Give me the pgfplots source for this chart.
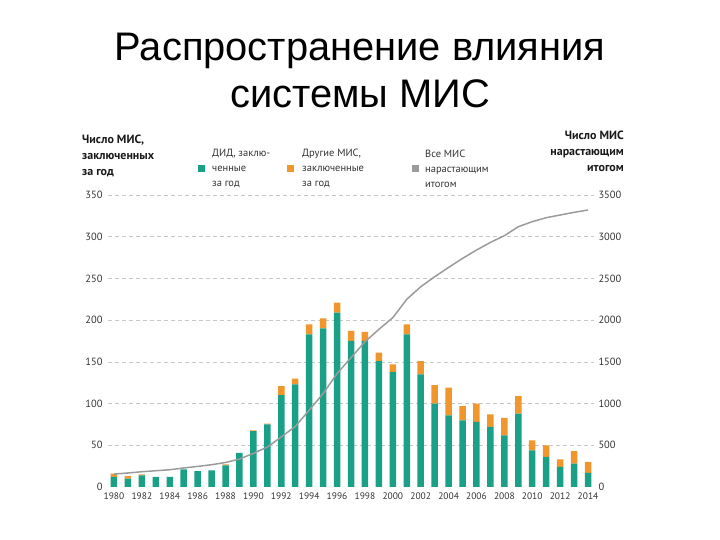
\documentclass[border=0pt]{standalone}
\usepackage{fontspec}
\setmainfont{PT Sans}
\newfontfamily\titlefont{Liberation Sans}
\usepackage{pgfplots}
\pgfplotsset{compat=1.18}
\usepackage{pgfplotstable}
\definecolor{didgreen}{HTML}{1AA086}
\definecolor{othorange}{HTML}{F0962D}
\definecolor{cumgray}{HTML}{9B9B9B}
\definecolor{txt}{HTML}{333333}
\definecolor{gridc}{HTML}{C8C8C8}

\pgfplotstableread{
year did other cum
1980 12 4 155
1981 10 3 168
1982 14 1 183
1983 12 0 195
1984 12 0 207
1985 21 0 228
1986 19 0 247
1987 20 0 267
1988 26 1 294
1989 41 0 335
1990 67 1 403
1991 75 1 479
1992 110 11 600
1993 123 7 725
1994 183 12 920
1995 190 12 1120
1996 209 12 1360
1997 175 12 1550
1998 175 11 1740
1999 151 10 1890
2000 138 9 2030
2001 183 12 2250
2002 135 16 2400
2003 100 22 2520
2004 86 33 2632
2005 80 17 2740
2006 78 22 2840
2007 72 15 2932
2008 62 21 3012
2009 88 21 3120
2010 44 12 3180
2011 36 14 3228
2012 24 9 3260
2013 28 15 3292
2014 17 13 3320
}\data

\begin{document}
\begin{tikzpicture}
\useasboundingbox (0,0) rectangle (720bp,540bp);
\node[font=\titlefont\fontsize{40}{48}\selectfont, anchor=base, inner sep=0] at (360bp,479bp) {Распространение влияния};
\node[font=\titlefont\fontsize{40}{48}\selectfont, anchor=base, inner sep=0] at (360bp,432bp) {системы МИС};

\node[anchor=north west, align=left, inner sep=0, text=black!90,
      font=\bfseries\fontsize{12}{15.8}\selectfont] at (82bp,405bp) {Число МИС,\\заключенных\\за год};
\node[anchor=north east, align=right, inner sep=0, text=black!90,
      font=\bfseries\fontsize{12}{15.8}\selectfont] at (624bp,409bp) {Число МИС\\нарастающим\\итогом};

\fill[didgreen] (198bp,368bp) rectangle (205bp,375bp);
\node[anchor=west, align=left, inner sep=0, text=txt, font=\fontsize{10.5}{15}\selectfont] at (212bp,371.5bp) {ДИД, заклю-\\ченные\\за год};
\fill[othorange] (287bp,368bp) rectangle (294bp,375bp);
\node[anchor=west, align=left, inner sep=0, text=txt, font=\fontsize{10.5}{15}\selectfont] at (302bp,371.5bp) {Другие МИС,\\заключенные\\за год};
\fill[cumgray] (412bp,368bp) rectangle (419bp,375bp);
\node[anchor=west, align=left, inner sep=0, text=txt, font=\fontsize{10.5}{15}\selectfont] at (425bp,371.5bp) {Все МИС\\нарастающим\\итогом};

\begin{axis}[
  at={(108bp,53bp)}, anchor=south west,
  scale only axis, width=486bp, height=292bp,
  ybar stacked, bar width=6.5bp,
  xmin=1979.57, xmax=2014.43, ymin=0, ymax=350,
  xtick={1980,1982,...,2014},
  ytick={0,50,...,350},
  extra y ticks={50,100,...,350},
  extra y tick labels={},
  extra y tick style={grid=major},
  major grid style={gridc, dash pattern=on 4bp off 3bp, line width=0.6bp},
  axis line style={draw=none},
  major tick length=0pt,
  yticklabel style={font=\fontsize{10.5}{12}\selectfont, text=txt, xshift=-2bp},
  xticklabel style={font=\fontsize{9.5}{11}\selectfont, text=txt, yshift=-2bp},
  /pgf/number format/1000 sep={},
  /pgf/number format/assume math mode=true,
]
\addplot[fill=didgreen, draw=none] table[x=year,y=did]{\data};
\addplot[fill=othorange, draw=none] table[x=year,y=other]{\data};
\end{axis}

\begin{axis}[
  at={(108bp,53bp)}, anchor=south west,
  scale only axis, width=486bp, height=292bp,
  xmin=1979.57, xmax=2014.43, ymin=0, ymax=3500,
  axis y line*=right, hide x axis,
  axis line style={draw=none},
  ytick={0,500,...,3500},
  major tick length=0pt,
  yticklabel style={font=\fontsize{10.5}{12}\selectfont, text=txt, xshift=1bp},
  /pgf/number format/1000 sep={},
  /pgf/number format/assume math mode=true,
]
\addplot[cumgray, line width=1.5bp, no marks] table[x=year,y=cum]{\data};
\end{axis}
\end{tikzpicture}
\end{document}
